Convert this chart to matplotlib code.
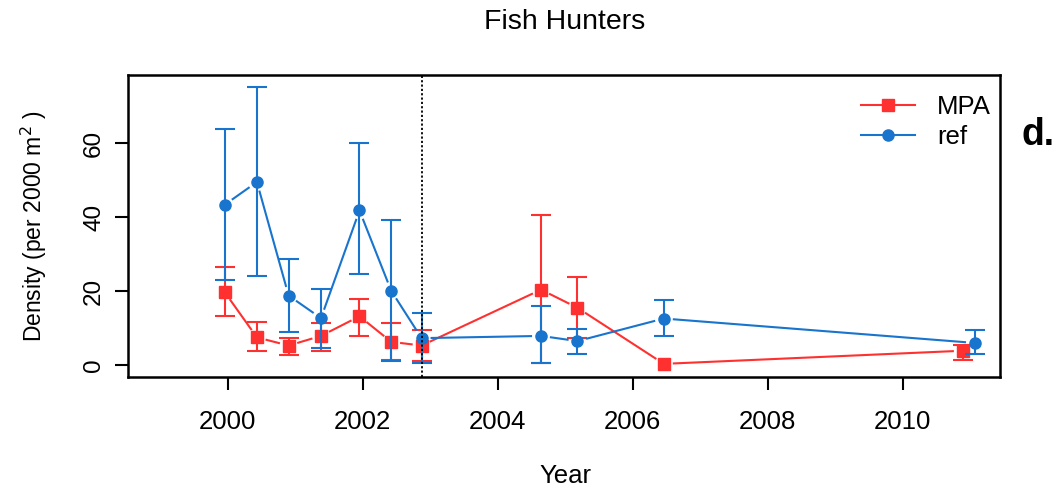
import matplotlib.pyplot as plt
import numpy as np

# values
mpa_year = [1999.95, 2000.43, 2000.90, 2001.38, 2001.95, 2002.42, 2002.87, 2004.64, 2005.18, 2006.46, 2010.89]
mpa_mean = [19.8, 7.5, 5.3, 7.9, 13.2, 6.3, 5.3, 20.4, 15.5, 0.35, 3.9]
mpa_lo = [13.2, 3.9, 2.7, 3.9, 7.8, 1.5, 1.2, 0.5, 7.4, 0.35, 1.5]
mpa_hi = [26.5, 11.7, 7.4, 11.4, 17.8, 11.4, 9.4, 40.5, 23.7, 0.35, 5.4]

ref_year = [1999.95, 2000.43, 2000.90, 2001.38, 2001.95, 2002.42, 2002.87, 2004.64, 2005.18, 2006.46, 2011.07]
ref_mean = [43.3, 49.5, 18.8, 12.7, 41.8, 20.1, 7.3, 7.9, 6.5, 12.6, 6.0]
ref_lo = [23.0, 24.1, 8.9, 4.7, 24.6, 1.2, 0.7, 0.5, 3.1, 7.8, 3.1]
ref_hi = [63.9, 75.1, 28.7, 20.7, 60.0, 39.3, 14.0, 16.0, 9.8, 17.6, 9.4]

year_ticks = [2000, 2002, 2004, 2006, 2008, 2010]
dens_ticks = [0, 20, 40, 60]
mpa_start = 2002.87

red = '#FF3030'
blue = '#1874CD'

plt.rcParams['font.family'] = ['Liberation Sans', 'DejaVu Sans']
plt.rcParams['font.size'] = 18.5

fig = plt.figure(figsize=(10.64, 4.93), dpi=100)
ax = fig.add_axes([0.1203, 0.2353, 0.8195, 0.6125])
ax.set_xlim(1998.52, 2011.44)
ax.set_ylim(-3.2, 78.4)


def gap_line(xs, ys, color, gap=10):
    # R type="b": segments stop short of each point
    pts = ax.transData.transform(np.column_stack([xs, ys]))
    inv = ax.transData.inverted()
    for a, b in zip(pts[:-1], pts[1:]):
        d = b - a
        n = np.hypot(*d)
        if n <= 2 * gap:
            continue
        u = d / n
        seg = inv.transform(np.array([a + u * gap, b - u * gap]))
        ax.plot(seg[:, 0], seg[:, 1], color=color, lw=1.5)


def series(xs, ys, lo, hi, color, marker, ms, label):
    xs, ys, lo, hi = map(np.array, (xs, ys, lo, hi))
    m = hi > lo
    ax.errorbar(xs[m], ys[m], yerr=[ys[m] - lo[m], hi[m] - ys[m]], fmt='none',
                ecolor=color, elinewidth=1.5, capsize=7.5, capthick=1.5)
    gap_line(xs, ys, color)
    ax.plot(xs, ys, ls='none', marker=marker, ms=ms, color=color)
    return ax.plot([], [], color=color, lw=1.5, marker=marker, ms=ms, label=label)[0]


h1 = series(mpa_year, mpa_mean, mpa_lo, mpa_hi, red, 's', 8.6, 'MPA')
h2 = series(ref_year, ref_mean, ref_lo, ref_hi, blue, 'o', 8, 'ref')

ax.axvline(mpa_start, color='black', ls=(0, (1.2, 1.2)), lw=1.3)

ax.set_xticks(year_ticks)
ax.set_yticks(dens_ticks)
ax.set_yticklabels([str(v) for v in dens_ticks], rotation=90, va='center', fontsize=17.5)
ax.tick_params(direction='out', length=9.5, width=1.5)
ax.tick_params(axis='x', pad=14)
ax.tick_params(axis='y', pad=7)
for s in ax.spines.values():
    s.set_linewidth(1.8)

fig.text(0.531, 0.034, 'Year', ha='center', va='center')
fig.text(0.032, 0.542, 'Density (per 2000 m$^2$ )', ha='center', va='center', rotation=90, fontsize=16.5)
fig.text(0.531, 0.955, 'Fish Hunters', ha='center', va='center', fontsize=20.5)
fig.text(0.976, 0.726, 'd.', ha='center', va='center', fontsize=27, fontweight='bold')

ax.legend(handles=[h1, h2], loc='upper left', bbox_to_anchor=(0.826, 0.975), frameon=False,
          handlelength=2.1, handletextpad=0.85, labelspacing=0.2, borderpad=0)

fig.savefig('out.png', dpi=100)
